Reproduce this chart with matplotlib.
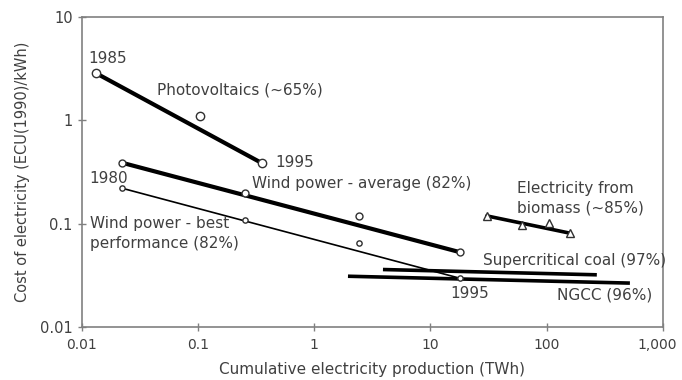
import numpy as np
import matplotlib.pyplot as plt
import matplotlib.transforms as mtransforms

plt.rcParams['font.family'] = ['DejaVu Sans']

# experience curves: cumulative production (TWh) vs cost (ECU(1990)/kWh)
pv_x = [0.0132, 0.104, 0.354]
pv_y = [2.87, 1.10, 0.386]

wind_avg_x = [0.022, 0.253, 2.42, 17.9]
wind_avg_y = [0.39, 0.198, 0.119, 0.053]

wind_best_x = [0.022, 0.253, 2.42, 17.8]
wind_best_y = [0.221, 0.108, 0.065, 0.0297]

bio_x = [30.5, 61, 104, 158]
bio_y = [0.119, 0.097, 0.101, 0.081]

coal_x = [3.9, 270]
coal_y = [0.036, 0.032]

ngcc_x = [1.95, 520]
ngcc_y = [0.031, 0.0266]

xticks = [0.01, 0.1, 1, 10, 100, 1000]
xticklabels = ['0.01', '0.1', '1', '10', '100', '1,000']
yticks = [0.01, 0.1, 1, 10]
yticklabels = ['0.01', '0.1', '1', '10']

txt = '#404040'
spine = '#808080'

fig = plt.figure(figsize=(6.82, 3.8), dpi=100)
ax = fig.add_axes([0.120, 0.1395, 0.852, 0.8155])
ax.set_xscale('log')
ax.set_yscale('log')
ax.set_xlim(0.01, 1000)
ax.set_ylim(0.01, 10)

mk = dict(linestyle='none', markerfacecolor='white', markeredgecolor='#303030', markeredgewidth=1.0)

# trend lines run from first to last observation, markers on top
def curve(x, y, lw, marker, ms):
    ax.plot([x[0], x[-1]], [y[0], y[-1]], color='black', lw=lw, solid_capstyle='round')
    ax.plot(x, y, marker=marker, markersize=ms, zorder=3, **mk)

curve(pv_x, pv_y, 3.0, 'o', 6)
curve(wind_avg_x, wind_avg_y, 3.0, 'o', 5)
curve(wind_best_x, wind_best_y, 1.2, 'o', 3.8)
ax.plot(ngcc_x, ngcc_y, color='black', lw=2.6, solid_capstyle='butt')
ax.plot(coal_x, coal_y, color='black', lw=2.6, solid_capstyle='butt')
curve(bio_x, bio_y, 2.6, '^', 6)

fs = 11
ax.text(0.0113, 4.0, '1985', fontsize=fs, color=txt, va='center')
ax.text(0.0442, 1.96, 'Photovoltaics (~65%)', fontsize=fs, color=txt, va='center')
ax.text(0.458, 0.395, '1995', fontsize=fs, color=txt, va='center')
ax.text(0.0117, 0.276, '1980', fontsize=fs, color=txt, va='center')
ax.text(0.29, 0.247, 'Wind power - average (82%)', fontsize=fs, color=txt, va='center')
ax.text(55.4, 0.221, 'Electricity from', fontsize=fs, color=txt, va='center')
ax.text(55.4, 0.1416, 'biomass (~85%)', fontsize=fs, color=txt, va='center')
ax.text(0.0117, 0.101, 'Wind power - best', fontsize=fs, color=txt, va='center')
ax.text(0.0117, 0.0649, 'performance (82%)', fontsize=fs, color=txt, va='center')
ax.text(28.2, 0.0445, 'Supercritical coal (97%)', fontsize=fs, color=txt, va='center')
ax.text(14.7, 0.0213, '1995', fontsize=fs, color=txt, va='center')
ax.text(122, 0.0204, 'NGCC (96%)', fontsize=fs, color=txt, va='center')

ax.set_xticks(xticks)
ax.set_xticklabels(xticklabels)
ax.set_yticks(yticks)
ax.set_yticklabels(yticklabels)
ax.minorticks_off()
ax.tick_params(direction='inout', length=6, width=1, color=spine, labelcolor=txt, labelsize=10.5)
ax.tick_params(axis='x', pad=5, labelsize=10)
for s in ax.spines.values():
    s.set_color(spine)
    s.set_linewidth(1.2)

# nudge the last x label inside the figure
last = ax.get_xticklabels()[-1]
last.set_transform(last.get_transform() + mtransforms.ScaledTranslation(-4 / 72, 0, fig.dpi_scale_trans))

ax.set_xlabel('Cumulative electricity production (TWh)', fontsize=fs, color=txt, labelpad=7)
ax.set_ylabel('Cost of electricity (ECU(1990)/kWh)', fontsize=10.5, color=txt, labelpad=7)

fig.savefig('out.png', dpi=100)
